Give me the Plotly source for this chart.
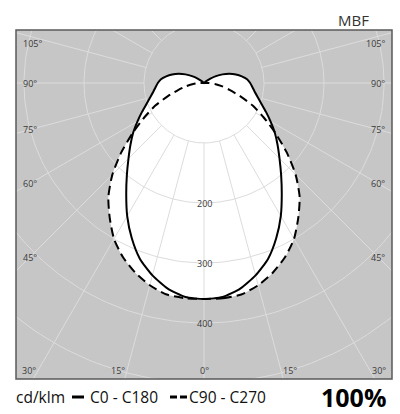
import numpy as np
import plotly.graph_objects as go

# ---- data (cd/klm, angle from nadir in degrees) ----
angles = list(range(0, 185, 5))
c0_c180 = [360, 358, 348, 332, 312, 285, 256, 226, 200, 178, 160, 144, 128, 114,
           102, 93, 86, 81, 77, 72, 64, 55, 45, 34, 23, 13, 5, 0, 0, 0, 0, 0, 0, 0, 0, 0, 0]
c90_c270 = [360, 360, 358, 349, 336, 320, 300, 274, 248, 216, 180, 145, 115, 90,
            64, 44, 30, 18, 8, 2, 0, 0, 0, 0, 0, 0, 0, 0, 0, 0, 0, 0, 0, 0, 0, 0, 0]
ring_values = [100, 200, 300, 400, 500]
ring_labels = [200, 300, 400]
ray_angles = list(range(0, 360, 15))
side_angles = [105, 90, 75, 60, 45]
bottom_angles = [30, 15, 0, 15, 30]
bottom_sides = [-1, -1, 0, 1, 1]

W, H = 400, 414
L, R, T, B = 16, 8, 30, 35
SCALE = 0.6  # px per cd/klm
CX, CY = 204, 83  # pole position in px
x_rng = [-(CX - L) / SCALE, (W - R - CX) / SCALE]
y_rng = [-(H - B - CY) / SCALE, (CY - T) / SCALE]


def closed_curve(vals):
    th = np.radians(np.array(angles, dtype=float))
    r = np.array(vals, dtype=float)
    xr, yr = r * np.sin(th), -r * np.cos(th)
    x = np.concatenate([xr, -xr[::-1][1:]])
    y = np.concatenate([yr, yr[::-1][1:]])
    return x, y


fig = go.Figure()
xs, ys = closed_curve(c0_c180)
xd, yd = closed_curve(c90_c270)

# white fills (union of both distributions)
for x, y in [(xs, ys), (xd, yd)]:
    fig.add_trace(go.Scatter(x=x, y=y, mode="lines", fill="toself", fillcolor="white",
                             line=dict(width=0, color="white", shape="spline", smoothing=0.6),
                             hoverinfo="skip", showlegend=False))

GRID = "#dcdcdc"
t = np.linspace(0, 2 * np.pi, 241)
for rv in ring_values:
    fig.add_trace(go.Scatter(x=rv * np.cos(t), y=rv * np.sin(t), mode="lines",
                             line=dict(color=GRID, width=1), hoverinfo="skip", showlegend=False))
for a in ray_angles:
    th = np.radians(a)
    fig.add_trace(go.Scatter(x=[100 * np.sin(th), 800 * np.sin(th)],
                             y=[-100 * np.cos(th), -800 * np.cos(th)], mode="lines",
                             line=dict(color=GRID, width=1), hoverinfo="skip", showlegend=False))

fig.add_trace(go.Scatter(x=xs, y=ys, mode="lines", name="C0 - C180",
                         line=dict(color="black", width=2, shape="spline", smoothing=0.6),
                         showlegend=False))
fig.add_trace(go.Scatter(x=xd, y=yd, mode="lines", name="C90 - C270",
                         line=dict(color="black", width=2, dash="9px,5px", shape="spline", smoothing=0.6),
                         showlegend=False))

ann = []
FONT = "Open Sans, sans-serif"
LBL = dict(family=FONT, size=9, color="#3a3a3a")
for rv in ring_labels:
    ann.append(dict(x=0, y=-rv, text=str(rv), showarrow=False, font=dict(family=FONT, size=9, color="#3a3a3a"),
                    xanchor="center", yanchor="middle"))

Xray = (CX - 30) / SCALE
ymax = (CY - 43) / SCALE
for a in side_angles:
    th = np.radians(a)
    yv = min(-Xray * np.cos(th) / np.sin(th), ymax)
    ann.append(dict(x=x_rng[0] + 5 / SCALE, y=yv, text=f"{a}°", showarrow=False, font=LBL,
                    xanchor="left", yanchor="middle"))
    ann.append(dict(x=x_rng[1] - 5 / SCALE, y=yv, text=f"{a}°", showarrow=False, font=LBL,
                    xanchor="right", yanchor="middle"))
Ybot = (370 - CY) / SCALE
for a, s in zip(bottom_angles, bottom_sides):
    xv = s * Ybot * np.tan(np.radians(a))
    anchor = {-1: "right", 0: "center", 1: "left"}[s]
    ann.append(dict(x=xv, y=-Ybot, text=f"{a}°", showarrow=False, font=LBL,
                    xanchor=anchor, yanchor="middle"))

PW, PH = W - L - R, H - T - B


def px(xp):
    return (xp - L) / PW


def py(yp):
    return (H - B - yp) / PH


TXT = dict(family=FONT, size=15.5, color="#111")
ann.append(dict(xref="paper", yref="paper", x=px(371), y=py(20), text="MBF", showarrow=False,
                font=dict(family=FONT, size=15, color="#333"), xanchor="right", yanchor="middle"))
ann.append(dict(xref="paper", yref="paper", x=px(14), y=py(397), text="cd/klm", showarrow=False,
                font=TXT, xanchor="left", yanchor="middle"))
ann.append(dict(xref="paper", yref="paper", x=px(88), y=py(397), text="C0 - C180", showarrow=False,
                font=TXT, xanchor="left", yanchor="middle"))
ann.append(dict(xref="paper", yref="paper", x=px(187), y=py(397), text="C90 - C270", showarrow=False,
                font=TXT, xanchor="left", yanchor="middle"))
ann.append(dict(xref="paper", yref="paper", x=px(388), y=py(397), text="<b>100%</b>", showarrow=False,
                font=dict(family=FONT, size=25, color="#000"), xanchor="right", yanchor="middle"))

legend_y = py(397)
shapes = [
    dict(type="rect", xref="paper", yref="paper", x0=0, y0=0, x1=1, y1=1,
         line=dict(color="#5a5a5a", width=1.5), layer="above"),
    dict(type="line", xref="paper", yref="paper", x0=px(72), x1=px(84), y0=legend_y, y1=legend_y,
         line=dict(color="black", width=3)),
    dict(type="line", xref="paper", yref="paper", x0=px(170), x1=px(177), y0=legend_y, y1=legend_y,
         line=dict(color="black", width=3)),
    dict(type="line", xref="paper", yref="paper", x0=px(180), x1=px(187), y0=legend_y, y1=legend_y,
         line=dict(color="black", width=3)),
]

fig.update_layout(
    width=W, height=H, margin=dict(l=L, r=R, t=T, b=B),
    paper_bgcolor="white", plot_bgcolor="#c6c6c6",
    xaxis=dict(range=x_rng, visible=False, fixedrange=True),
    yaxis=dict(range=y_rng, visible=False, fixedrange=True),
    annotations=ann, shapes=shapes,
)
fig.write_html("out.html", config={"displayModeBar": False},
               post_script="document.body.style.margin='0';document.body.style.overflow='hidden';")
